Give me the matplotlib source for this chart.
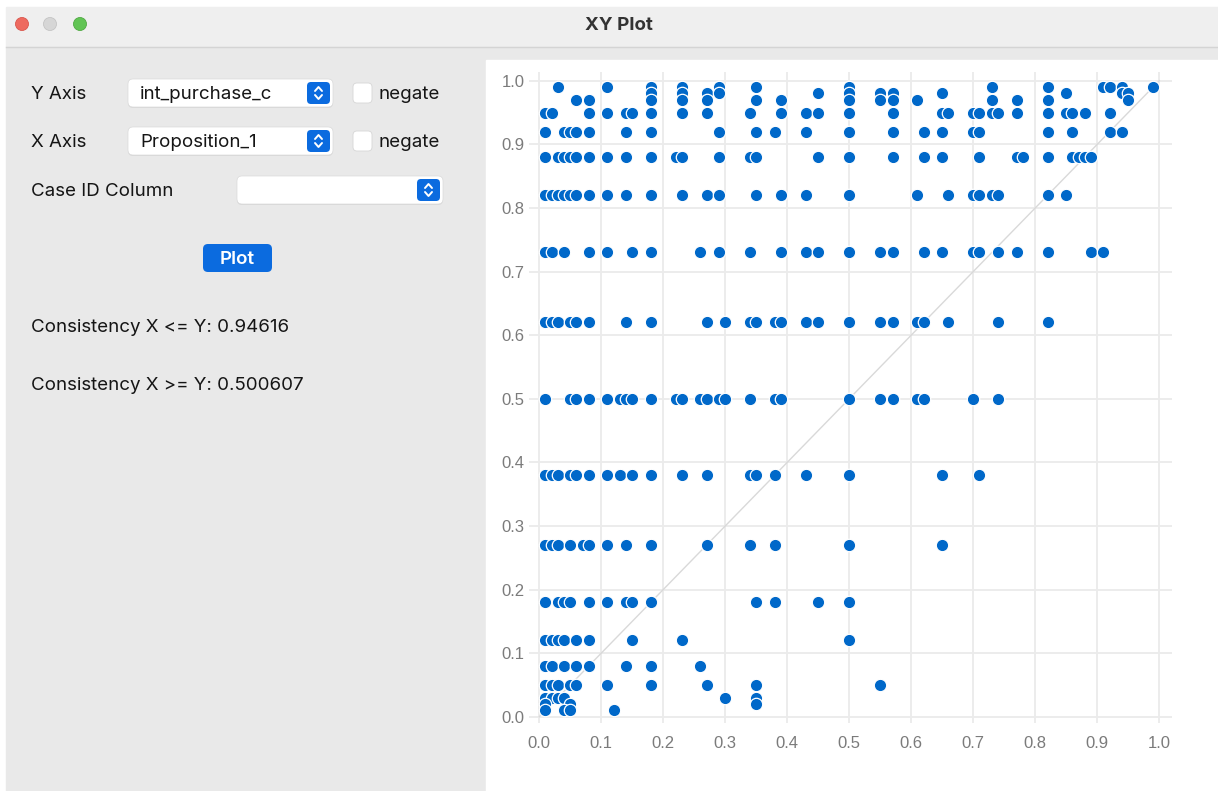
import numpy as np
import matplotlib
matplotlib.use("Agg")
import matplotlib.pyplot as plt
from matplotlib.patches import Rectangle, FancyBboxPatch, Circle

# y levels of int_purchase_c and the Proposition_1 values found at each level
y_levels = [0.99, 0.98, 0.97, 0.95, 0.92, 0.88, 0.82, 0.73, 0.62, 0.50,
            0.38, 0.27, 0.18, 0.12, 0.08, 0.05, 0.03, 0.02, 0.01]

x_099 = [0.03, 0.11, 0.18, 0.23, 0.29, 0.35, 0.50, 0.73, 0.82, 0.91, 0.92, 0.94, 0.99]
x_098 = [0.18, 0.23, 0.27, 0.29, 0.45, 0.50, 0.55, 0.57, 0.65, 0.85, 0.94, 0.95]
x_097 = [0.06, 0.08, 0.18, 0.23, 0.27, 0.35, 0.39, 0.50, 0.55, 0.57, 0.61, 0.73,
         0.77, 0.82, 0.95]
x_095 = [0.01, 0.02, 0.08, 0.11, 0.14, 0.15, 0.18, 0.23, 0.27, 0.34, 0.39, 0.43,
         0.45, 0.50, 0.57, 0.65, 0.66, 0.70, 0.71, 0.73, 0.74, 0.77, 0.82, 0.85,
         0.86, 0.88, 0.92]
x_092 = [0.01, 0.04, 0.05, 0.06, 0.08, 0.14, 0.18, 0.29, 0.35, 0.38, 0.43, 0.50,
         0.57, 0.62, 0.65, 0.70, 0.71, 0.82, 0.86, 0.92, 0.94]
x_088 = [0.01, 0.03, 0.04, 0.05, 0.06, 0.08, 0.11, 0.14, 0.18, 0.22, 0.23, 0.29,
         0.34, 0.35, 0.45, 0.50, 0.57, 0.62, 0.65, 0.71, 0.77, 0.78, 0.82, 0.86,
         0.87, 0.88, 0.89]
x_082 = [0.01, 0.02, 0.03, 0.04, 0.05, 0.06, 0.08, 0.11, 0.14, 0.18, 0.23, 0.27,
         0.29, 0.35, 0.39, 0.43, 0.50, 0.61, 0.66, 0.70, 0.71, 0.73, 0.74, 0.82, 0.85]
x_073 = [0.01, 0.02, 0.04, 0.08, 0.11, 0.15, 0.18, 0.26, 0.29, 0.34, 0.39, 0.43,
         0.45, 0.50, 0.55, 0.57, 0.62, 0.65, 0.70, 0.71, 0.74, 0.77, 0.82, 0.89, 0.91]
x_062 = [0.01, 0.02, 0.03, 0.05, 0.06, 0.08, 0.14, 0.18, 0.27, 0.30, 0.34, 0.35,
         0.38, 0.39, 0.43, 0.45, 0.50, 0.55, 0.57, 0.61, 0.62, 0.66, 0.74, 0.82]
x_050 = [0.01, 0.05, 0.06, 0.08, 0.11, 0.13, 0.14, 0.15, 0.18, 0.22, 0.23, 0.26,
         0.27, 0.29, 0.30, 0.34, 0.38, 0.39, 0.50, 0.55, 0.57, 0.61, 0.62, 0.70, 0.74]
x_038 = [0.01, 0.02, 0.03, 0.05, 0.06, 0.08, 0.11, 0.13, 0.15, 0.18, 0.23, 0.27,
         0.34, 0.35, 0.38, 0.43, 0.50, 0.65, 0.71]
x_027 = [0.01, 0.02, 0.03, 0.05, 0.07, 0.08, 0.11, 0.14, 0.18, 0.27, 0.34, 0.38,
         0.50, 0.65]
x_018 = [0.01, 0.03, 0.04, 0.05, 0.08, 0.11, 0.14, 0.15, 0.18, 0.35, 0.38, 0.45, 0.50]
x_012 = [0.01, 0.02, 0.03, 0.04, 0.06, 0.08, 0.15, 0.23, 0.50]
x_008 = [0.01, 0.02, 0.04, 0.06, 0.08, 0.14, 0.18, 0.26]
x_005 = [0.01, 0.02, 0.03, 0.05, 0.06, 0.11, 0.18, 0.27, 0.35, 0.55]
x_003 = [0.01, 0.02, 0.03, 0.04, 0.30, 0.35]
x_002 = [0.01, 0.05, 0.35]
x_001 = [0.01, 0.04, 0.05, 0.12]

x_rows = [x_099, x_098, x_097, x_095, x_092, x_088, x_082, x_073, x_062, x_050,
          x_038, x_027, x_018, x_012, x_008, x_005, x_003, x_002, x_001]

consistency_le = "0.94616"
consistency_ge = "0.500607"

xs = np.concatenate([np.array(r) for r in x_rows])
ys = np.concatenate([np.full(len(r), y) for r, y in zip(x_rows, y_levels)])

W, H = 1218, 791
fig = plt.figure(figsize=(W / 100, H / 100), dpi=100, facecolor="white")

# window chrome, drawn in pixel coordinates
bg = fig.add_axes([0, 0, 1, 1], zorder=0)
bg.set_xlim(0, W)
bg.set_ylim(H, 0)
bg.axis("off")

ui_font = ["Inter", "DejaVu Sans"]
ui_size = 13.5
txt_col = "#151515"
blue = "#0b6bdf"
dy = 1.5  # small nudge so text sits on the same line as in the app

bg.add_patch(Rectangle((6, 7), W - 6, 40, color="#efefef"))
bg.plot([6, W], [46.5, 46.5], color="#d4d4d4", lw=1)
bg.add_patch(Rectangle((6, 47), W - 6, H - 47, color="#e9e9e9"))
bg.add_patch(Rectangle((486, 60), W - 486, H - 60, color="white"))

for cx, col, ec in [(22, "#ee6a5f", "#d9574d"), (50, "#d6d6d6", "#c4c4c4"), (80, "#61c454", "#50a943")]:
    bg.add_patch(Circle((cx, 24), 6.5, facecolor=col, edgecolor=ec, lw=0.6))
bg.text(619, 24 + dy, "XY Plot", ha="center", va="center", fontsize=13.5,
        fontweight="bold", color="#333333", family=ui_font)


def dropdown(x0, y0, x1, y1, label=None):
    bg.add_patch(FancyBboxPatch((x0, y0 + 1), x1 - x0, y1 - y0,
                                boxstyle="round,pad=0,rounding_size=5",
                                facecolor="#d9d9d9", edgecolor="none"))
    bg.add_patch(FancyBboxPatch((x0, y0), x1 - x0, y1 - y0,
                                boxstyle="round,pad=0,rounding_size=5",
                                facecolor="white", edgecolor="#dadada", lw=0.5))
    bx0 = x1 - 26
    bg.add_patch(FancyBboxPatch((bx0, y0 + 3), 23, y1 - y0 - 6,
                                boxstyle="round,pad=0,rounding_size=4",
                                facecolor=blue, edgecolor="none"))
    cx, cy = bx0 + 11.5, (y0 + y1) / 2
    bg.plot([cx - 3.5, cx, cx + 3.5], [cy - 2, cy - 6, cy - 2], color="white", lw=1.4,
            solid_capstyle="round", solid_joinstyle="round")
    bg.plot([cx - 3.5, cx, cx + 3.5], [cy + 2, cy + 6, cy + 2], color="white", lw=1.4,
            solid_capstyle="round", solid_joinstyle="round")
    if label:
        bg.text(x0 + 12, cy + dy, label, ha="left", va="center", fontsize=ui_size,
                color=txt_col, family=ui_font)


def checkbox(x0, yc):
    bg.add_patch(FancyBboxPatch((x0, yc - 10), 19, 20,
                                boxstyle="round,pad=0,rounding_size=4",
                                facecolor="white", edgecolor="#d6d6d6", lw=0.6))
    bg.text(x0 + 26, yc + dy, "negate", ha="left", va="center", fontsize=ui_size,
            color=txt_col, family=ui_font)


bg.text(31, 93 + dy, "Y Axis", ha="left", va="center", fontsize=ui_size, color=txt_col, family=ui_font)
dropdown(128, 79, 333, 107, "int_purchase_c")
checkbox(353, 93)

bg.text(31, 141 + dy, "X Axis", ha="left", va="center", fontsize=ui_size, color=txt_col, family=ui_font)
dropdown(128, 127, 333, 155, "Proposition_1")
checkbox(353, 141)

bg.text(31, 190 + dy, "Case ID Column", ha="left", va="center", fontsize=ui_size, color=txt_col,
        family=ui_font)
dropdown(237, 176, 443, 204)

bg.add_patch(FancyBboxPatch((203, 244), 69, 28, boxstyle="round,pad=0,rounding_size=5",
                            facecolor=blue, edgecolor="none"))
bg.text(237.5, 258 + dy, "Plot", ha="center", va="center", fontsize=ui_size, color="white",
        family=ui_font, fontweight="semibold")

bg.text(31, 326 + dy, "Consistency X <= Y: " + consistency_le, ha="left", va="center",
        fontsize=ui_size, color=txt_col, family=ui_font)
bg.text(31, 384 + dy, "Consistency X >= Y: " + consistency_ge, ha="left", va="center",
        fontsize=ui_size, color=txt_col, family=ui_font)

# scatter plot
ax = fig.add_axes([529 / W, 1 - 723 / H, 643 / W, 651 / H], zorder=1)
ax.set_facecolor("white")
ax.set_xlim(-0.0166, 1.0205)
ax.set_ylim(-0.0099, 1.0137)
ticks = np.round(np.arange(0, 1.01, 0.1), 1)
ax.set_xticks(ticks)
ax.set_yticks(ticks)
ax.set_xticklabels([f"{t:.1f}" for t in ticks])
ax.set_yticklabels([f"{t:.1f}" for t in ticks])
ax.grid(True, color="#ebebeb", lw=1.3)
ax.set_axisbelow(True)
for s in ax.spines.values():
    s.set_visible(False)
ax.tick_params(length=0, labelsize=12, labelcolor="#7b7b7b")
ax.tick_params(axis="x", pad=9)
ax.tick_params(axis="y", pad=3)
for lab in ax.get_xticklabels() + ax.get_yticklabels():
    lab.set_family(["Liberation Sans", "DejaVu Sans"])

ax.plot([0, 1], [0, 1], color="#d9d9d9", lw=1, zorder=2)
ax.scatter(xs, ys, s=80, c="#0068c9", edgecolors="white", linewidths=0.9,
           zorder=3, clip_on=False)

fig.savefig("out.png", dpi=100, facecolor="white")
